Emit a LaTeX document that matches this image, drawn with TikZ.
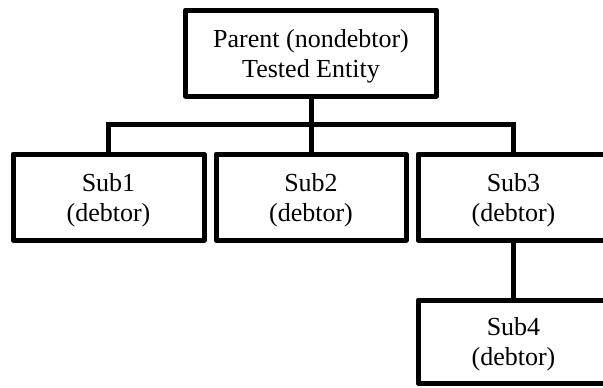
\documentclass[tikz,border=0pt]{standalone}
\usepackage{fontspec}
\setmainfont{Liberation Serif}
\begin{document}
\begin{tikzpicture}[x=1pt,y=-1pt,
  box/.style={draw, line width=5pt, line join=round, inner sep=0pt},
  caption/.style={align=center, font=\fontsize{26}{30}\selectfont, yshift=-3pt},
  conn/.style={line width=5pt}]
\clip (0,0) rectangle (603,388);
\useasboundingbox (0,0) rectangle (603,388);
% parent entity
\node[box, minimum width=251pt, minimum height=86pt,
  label={[caption]center:{Parent (nondebtor)\\Tested Entity}}] (parent) at (311,53) {};
% first tier of subsidiaries
\node[box, minimum width=191pt, minimum height=86pt,
  label={[caption]center:{Sub1\\(debtor)}}] (sub1) at (108.5,197) {};
\node[box, minimum width=190pt, minimum height=86pt,
  label={[caption]center:{Sub2\\(debtor)}}] (sub2) at (311,197) {};
\node[box, minimum width=191pt, minimum height=86pt,
  label={[caption]center:{Sub3\\(debtor)}}] (sub3) at (513.5,197) {};
% second tier
\node[box, minimum width=191pt, minimum height=83pt,
  label={[caption]center:{Sub4\\(debtor)}}] (sub4) at (513.5,341.5) {};
% connectors
\coordinate (bus) at (311,124);
\draw[conn] (parent.south) -- (sub2.north);
\draw[conn] (sub1.north) |- (bus) -| (sub3.north);
\draw[conn] (sub3.south) -- (sub4.north);
\end{tikzpicture}
\end{document}
